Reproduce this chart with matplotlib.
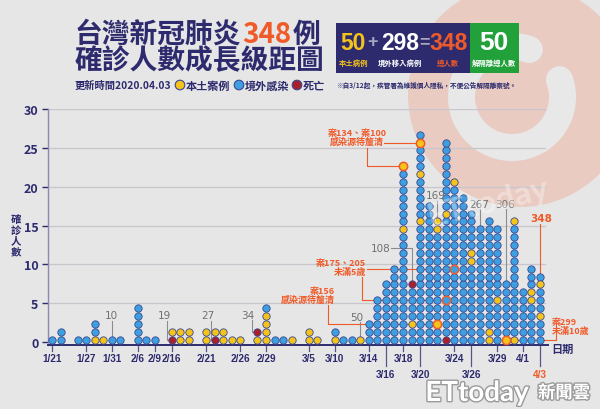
import math

import matplotlib
matplotlib.use("Agg")
import matplotlib.pyplot as plt
import matplotlib.patheffects as pe
from matplotlib.patches import Circle, Wedge, Rectangle

plt.rcParams["font.family"] = ["Noto Sans CJK TC", "DejaVu Sans"]

NAVY = "#2d2b6e"
BLUE = "#3d9fdf"
YELLOW = "#f4c41a"
RED = "#a91f2c"
ORANGE = "#f05a28"
GREEN = "#22a03a"
BG = "#e6e6e6"
SALMON = "#e9cbc1"
EDGE = "#3a4890"
GRAY_TXT = "#707070"
LATIN = ["Liberation Sans", "DejaVu Sans"]

# one slot per column on the x axis, None = empty slot
column_dates = [
    "1/21", "1/24", None, "1/26", "1/27", "1/28", "1/30", "1/31", "2/4", None,
    "2/6", "2/7", "2/9", None, "2/16", "2/18", "2/19", None, "2/21", "2/22",
    "2/24", "2/25", "2/26", None, "2/28", "2/29", "3/1", "3/2", "3/3", None,
    "3/5", "3/6", None, "3/10", "3/11", "3/12", "3/13", "3/14", "3/15", "3/16",
    "3/17", "3/18", "3/19", "3/20", "3/21", "3/22", "3/23", "3/24", "3/25", "3/26",
    "3/27", "3/28", "3/29", "3/30", "3/31", "4/1", "4/2", "4/3",
]

# dots from bottom to top: b = imported, y = local, r = death,
# Y / B = local / imported case picked out by an orange note
column_stacks = [
    "b", "bb", "", "b", "b", "ybb", "y", "b", "b", "",
    "bbbbb", "b", "b", "", "ry", "yy", "yy", "", "yy", "ry",
    "yy", "y", "y", "", "yr", "yyyyb", "b", "b", "y", "",
    "yy", "y", "", "yb", "b", "b", "y", "bbb", "bbbbbb", "bbbbbbbb",
    "bbbbbbbbbb",
    "bbbbbbbbbbbbbb" "y" "bbbbbbb" "Y",
    "bby" "bbbb" "r",
    "bbbbbbbbbbbbbbb" "y" "bbbbb" "y" "bbb" "Y" "b",
    "bbbbbbbbbbbbbbbbbb",
    "bbY" "bbbbbbbbbbb" "yy",
    "r" "bbbb" "B" "bbbbbbbbbb" "y" "bbbbbbbbb",
    "bbbbbbbbb" "B" "bbbbbbbbbb" "y",
    "bbbbbbbbbbbbbbbbbbb",
    "bbbbbbbbbb" "yy" "bbbbb",
    "bbbbbbbbbbbbbbb",
    "yy" "bbbbbbbbbbbbbb",
    "bbbbb" "y" "bbbbbbbbb",
    "Y" "bbbbbbb",
    "y" "bbbbbbbbbbbbbb" "y",
    "bbbbbbb",
    "bbbbb" "yy" "bbb",
    "bbb" "y" "bbb" "y" "b",
]

tick_dates = ["1/21", "1/27", "1/31", "2/6", "2/9", "2/16", "2/21", "2/26", "2/29",
              "3/5", "3/10", "3/14", "3/16", "3/18", "3/20", "3/24", "3/26",
              "3/29", "4/1", "4/3"]
low_row_dates = ["3/16", "3/20", "3/26", "4/3"]

y_ticks = [0, 5, 10, 15, 20, 25, 30]

# running totals written over the columns: label, date, dot index
total_marks = [("10", "1/31", 0), ("19", "2/16", 0), ("27", "2/22", 0),
               ("34", "2/28", 1), ("50", "3/13", 0), ("108", "3/19", 7),
               ("169", "3/22", 15), ("267", "3/27", 14), ("306", "3/30", 7),
               ("348", "4/3", 8)]

notes = [
    ("案134、案100\n感染源待釐清", [("3/20", 25), ("3/18", 22)]),
    ("案175、205\n未滿5歲", [("3/24", 9), ("3/23", 5)]),
    ("案156\n感染源待釐清", [("3/22", 2)]),
    ("案299\n未滿10歲", [("3/30", 0)]),
]

local_cases = 50
imported_cases = 298
total_cases = 348
released = 50

# ---- pixel layout of the chart area -------------------------------------
X0_PX, SLOT_PX = 52, 8.561
Y0_PX, UNIT_PX = 343, 7.767


def dx(px):
    return (px - X0_PX) / SLOT_PX


def dy(py):
    return (Y0_PX - py) / UNIT_PX


def dot_y(i):
    return 0.3 + 1.015 * i


slot_of = {d: k for k, d in enumerate(column_dates) if d}

fig = plt.figure(figsize=(6, 4.1), dpi=100)
fig.patch.set_facecolor(BG)

bg = fig.add_axes([0, 0, 1, 1], zorder=0)
bg.set_xlim(0, 600)
bg.set_ylim(410, 0)
bg.axis("off")

# logo in the background
bg.add_patch(Circle((520, 96), 112, color=SALMON, lw=0))
bg.add_patch(Wedge((512, 98), 64, -20, 290, width=27, color="#e8e8e8", lw=0))
for ang in (-20, 290):
    r_mid = 64 - 13.5
    bg.add_patch(Circle((512 + r_mid * math.cos(math.radians(ang)),
                         98 + r_mid * math.sin(math.radians(ang))),
                        13.5, color="#e8e8e8", lw=0))

# ---- chart --------------------------------------------------------------
ax = fig.add_axes([48 / 600, (410 - 346) / 410, 500 / 600, (346 - 110) / 410], zorder=1)
ax.patch.set_alpha(0)
ax.set_xlim(dx(48), dx(548))
ax.set_ylim(dy(346), dy(110))

for v in y_ticks[1:]:
    ax.plot([dx(48), dx(545)], [v, v], color="#c6c6cc", lw=0.9, zorder=1)

for side in ("top", "right"):
    ax.spines[side].set_visible(False)
ax.spines["left"].set_color("#8a8ab0")
ax.spines["left"].set_linewidth(1.0)
ax.spines["bottom"].set_color(NAVY)
ax.spines["bottom"].set_linewidth(1.4)

ax.set_yticks(y_ticks)
ax.set_yticklabels([str(v) for v in y_ticks], fontsize=9, fontweight="bold", color=NAVY)
ax.tick_params(axis="y", length=4, width=1, color=NAVY, pad=3)
ax.set_xticks([])

style = {
    "b": dict(fc=BLUE, ec=EDGE, s=28, lw=0.6),
    "y": dict(fc=YELLOW, ec=EDGE, s=28, lw=0.6),
    "r": dict(fc=RED, ec=EDGE, s=28, lw=0.6),
    "Y": dict(fc=YELLOW, ec=ORANGE, s=36, lw=1.1),
    "B": dict(fc=BLUE, ec=ORANGE, s=36, lw=1.1),
}
pts = {k: ([], []) for k in style}
for k, stack in enumerate(column_stacks):
    for i, c in enumerate(stack):
        pts[c][0].append(k)
        pts[c][1].append(dot_y(i))
for c, (xs, ys) in pts.items():
    st = style[c]
    ax.scatter(xs, ys, s=st["s"], c=st["fc"], edgecolors=st["ec"],
               linewidths=st["lw"], zorder=4, clip_on=False)

# x ticks, two rows
for d in tick_dates:
    k = slot_of[d]
    low = d in low_row_dates
    ax.plot([k, k], [dy(346), dy(367 if low else 352)], color="#55558a",
            lw=0.9, clip_on=False, zorder=2)
    ax.text(k, dy(375 if low else 359), d, ha="center", va="center", fontsize=7.2,
            fontweight="bold", family=LATIN,
            color=ORANGE if d == "4/3" else NAVY, clip_on=False)
ax.text(dx(562), dy(349), "日期", ha="center", va="center", fontsize=8,
        fontweight="bold", color=NAVY, clip_on=False)
ax.text(dx(16), dy(236), "確\n診\n人\n數", ha="center", va="center", fontsize=7.5,
        fontweight="bold", color=NAVY, linespacing=1.1, clip_on=False)


def leader(start, target, mode, color):
    sx, sy = start
    tx, ty = target
    if mode == "v":
        xs, ys = [sx, sx, tx], [sy, ty, ty]
    elif sy is None:
        xs, ys = [sx, tx], [ty, ty]
    else:
        xs, ys = [sx, tx, tx], [sy, sy, ty]
    ax.plot(xs, ys, color=color, lw=0.8, zorder=3, clip_on=False)


# text position (px), leader start (px, None = follow the dot), mode
mark_layout = {
    "10": ((111, 316), (None, 322), "v"),
    "19": ((164, 316), (167, 322), "v"),
    "27": ((208, 316), (211, 322), "v"),
    "34": ((248, 316), (252, 321), "v"),
    "50": ((357, 318), (None, 323), "v"),
    "108": ((381, 249), (391, 249), "h"),
    "169": ((436, 196), (None, 202), "v"),
    "267": ((479, 205), (None, 210), "v"),
    "306": ((505, 205), (None, 210), "v"),
    "348": ((541, 219), (None, 225), "v"),
}
for label, d, i in total_marks:
    (tx, ty), (sx, sy), mode = mark_layout[label]
    k = slot_of[d]
    hot = label == str(total_cases)
    ax.text(dx(tx), dy(ty), label, ha="center", va="center", fontsize=7.5,
            color=ORANGE if hot else GRAY_TXT,
            fontweight="bold" if hot else "normal", family=["DejaVu Sans"], zorder=5)
    start = (k if sx is None else dx(sx), dy(sy))
    leader(start, (k, dot_y(i)), mode, ORANGE if hot else "#8c8c8c")

note_layout = [
    ((357, 138), "center", [((384, None), "h"), ((367, 149), "v")]),
    ((366, 268), "right", [((367, None), "h"), ((362, 278), "v")]),
    ((335, 296), "right", [((328, 306), "v")]),
    ((552, 327), "left", [((556, 336), "v")]),
]
for (txt, targets), (pos, ha, starts) in zip(notes, note_layout):
    ax.text(dx(pos[0]), dy(pos[1]), txt, ha=ha, va="center", fontsize=6.5,
            fontweight="bold", color=ORANGE, linespacing=1.05, zorder=5,
            multialignment=ha)
    for (d, i), ((sx, sy), mode) in zip(targets, starts):
        k = slot_of[d]
        start = (dx(sx), None if sy is None else dy(sy))
        leader(start, (k, dot_y(i)), mode, ORANGE)

# ---- header and watermarks ----------------------------------------------
ov = fig.add_axes([0, 0, 1, 1], zorder=3)
ov.set_xlim(0, 600)
ov.set_ylim(410, 0)
ov.axis("off")
ov.patch.set_alpha(0)

renderer = fig.canvas.get_renderer()


def text_run(x, y, parts, size, gap=0.0):
    for s, color in parts:
        t = ov.text(x, y, s, color=color, fontsize=size, ha="left", va="center",
                    fontweight="bold")
        x += t.get_window_extent(renderer=renderer).width + gap


text_run(75, 35, [("台灣新冠肺炎", NAVY), (str(total_cases), ORANGE), ("例", NAVY)], 20, gap=1)
text_run(75, 61, [("確診人數成長級距圖", NAVY)], 20)

ov.text(75, 86, "更新時間2020.04.03", ha="left", va="center", fontsize=7.4,
        fontweight="bold", color=NAVY)
for x, fc, lab in ((180, YELLOW, "本土案例"), (239, BLUE, "境外感染"), (297, RED, "死亡")):
    ov.add_patch(Circle((x, 86), 4.8, fc=fc, ec=EDGE, lw=0.8))
    ov.text(x + 6, 86, lab, ha="left", va="center", fontsize=8,
            fontweight="bold", color=NAVY)

ov.add_patch(Rectangle((336, 24), 134, 50, color=NAVY, lw=0))
ov.add_patch(Rectangle((470, 24), 49, 50, color=GREEN, lw=0))
num_kw = dict(ha="center", va="center", fontweight="bold", family=LATIN)
ov.text(353, 43, str(local_cases), color=YELLOW, fontsize=16.5, **num_kw)
ov.text(372, 43, "+", color="#a8a8c0", fontsize=13, **num_kw)
ov.text(400, 43, str(imported_cases), color="white", fontsize=16.5, **num_kw)
ov.text(424, 43, "=", color="#a8a8c0", fontsize=13, **num_kw)
ov.text(449, 43, str(total_cases), color=ORANGE, fontsize=16.5, **num_kw)
ov.text(494, 43, str(released), color="white", fontsize=19, **num_kw)
sub_kw = dict(ha="center", va="center", fontweight="bold", fontsize=5.3)
ov.text(354, 63, "本土病例", color=YELLOW, **sub_kw)
ov.text(400, 63, "境外移入病例", color="white", **sub_kw)
ov.text(448, 63, "總人數", color=ORANGE, **sub_kw)
ov.text(494, 63, "解隔離總人數", color="white", **sub_kw)
ov.text(336, 85, "※自3/12起，疾管署為維護個人隱私，不便公告解隔離案號。", ha="left",
        va="center", fontsize=4.8, color=NAVY, fontweight="bold")

# faint watermark across the tall columns
ov.text(488, 203, "ETtoday", ha="center", va="center", fontsize=24, rotation=14,
        color="white", alpha=0.35, fontweight="bold", family=["Lato", "DejaVu Sans"])

# watermark at the bottom right
halo = [pe.withStroke(linewidth=2, foreground="#9a9a9a")]
ov.text(477, 394, "ETtoday", ha="center", va="center", fontsize=20, color="white",
        fontweight="bold", family=["Lato", "DejaVu Sans"], path_effects=halo)
ov.text(564, 394, "新聞雲", ha="center", va="center", fontsize=12.5, color="white",
        fontweight="bold", path_effects=halo)

fig.savefig("out.png", dpi=100, facecolor=BG)
